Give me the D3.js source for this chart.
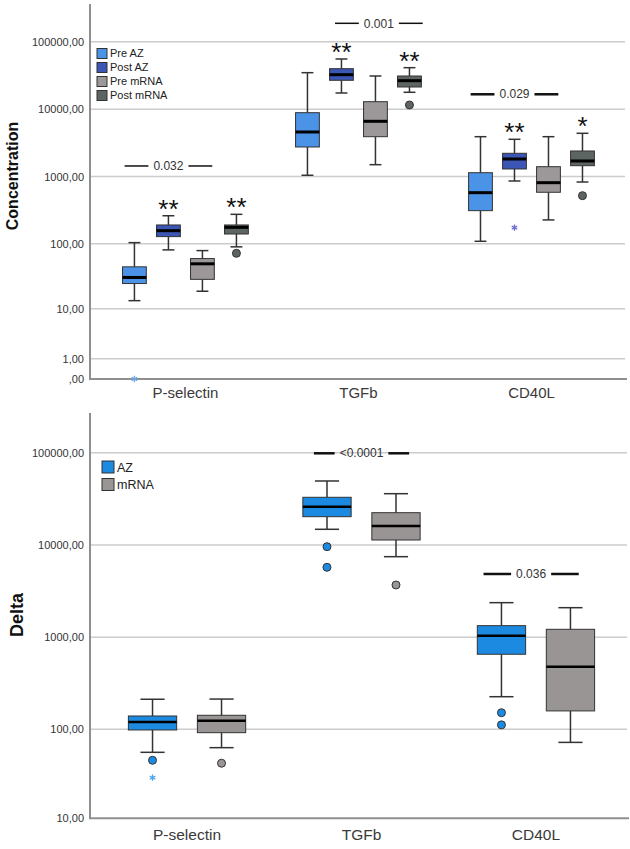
<!DOCTYPE html>
<html><head><meta charset="utf-8">
<script src="https://cdn.jsdelivr.net/npm/d3@7"></script>
<style>body{margin:0;background:#fff} svg{display:block} text{font-family:"Liberation Sans",Arial,sans-serif}</style>
</head><body><svg id="c" width="630" height="849"></svg>
<script>
// ---------- DATA ----------
const categories = ["P-selectin", "TGFb", "CD40L"];

// Top panel: Concentration
const topGroups = ["Pre AZ", "Post AZ", "Pre mRNA", "Post mRNA"];
const topColors = ["#4b93e6", "#3b56b5", "#9c9899", "#5d6562"];
// [lower whisker, Q1, median, Q3, upper whisker]
const topPselectin = [[13.5, 25, 31, 45, 104], [81, 128, 157, 191, 262], [19, 29, 50, 60, 79], [90, 140, 176, 191, 275]];
const topTGFb = [[1046, 2748, 4585, 8862, 34720], [17360, 26780, 32420, 39800, 55400], [1502, 3906, 6607, 12900, 31010], [17780, 21310, 26420, 31010, 41180]];
const topCD40L = [[109, 312, 577, 1142, 3906], [860, 1297, 1824, 2216, 3574], [227, 585, 812, 1402, 3906], [831, 1451, 1704, 2397, 4385]];
const topOutliers = [
  ["P-selectin", "Pre AZ", 0, "star"],
  ["P-selectin", "Post mRNA", 72, "circle"],
  ["TGFb", "Post mRNA", 11530, "circle"],
  ["CD40L", "Post AZ", 174, "star"],
  ["CD40L", "Post mRNA", 521, "circle"]
];
const topSignif = [["P-selectin", "Post AZ", "**"], ["P-selectin", "Post mRNA", "**"], ["TGFb", "Post AZ", "**"], ["TGFb", "Post mRNA", "**"], ["CD40L", "Post AZ", "**"], ["CD40L", "Post mRNA", "*"]];
// [category, label, value level, centre (group index units)]
const topPvalues = [["P-selectin", "0.032", 1437, 1.0], ["TGFb", "0.001", 187300, 2.1], ["CD40L", "0.029", 16610, 1.0]];
const topTicks = [0, 1, 10, 100, 1000, 10000, 100000];
const topTickLabels = [",00", "1,00", "10,00", "100,00", "1000,00", "10000,00", "100000,00"];

// Bottom panel: Delta
const bottomGroups = ["AZ", "mRNA"];
const bottomColors = ["#1d8ae2", "#9a9595"];
const deltaPselectin = [[56, 98.5, 120, 140, 213], [63, 92, 124, 142.5, 214]];
const deltaTGFb = [[14810, 20280, 26020, 32890, 49390], [7482, 11340, 16090, 22410, 35980]];
const deltaCD40L = [[227, 656, 1043, 1339, 2377], [72, 159, 481, 1223, 2097]];
const deltaOutliers = [
  ["P-selectin", "AZ", 45.7, "circle"],
  ["P-selectin", "AZ", 29.3, "star"],
  ["P-selectin", "mRNA", 42.4, "circle"],
  ["TGFb", "AZ", 9600, "circle"],
  ["TGFb", "AZ", 5743, "circle"],
  ["TGFb", "mRNA", 3694, "circle"],
  ["CD40L", "AZ", 152, "circle"],
  ["CD40L", "AZ", 112, "circle"]
];
const bottomPvalues = [["TGFb", "<0.0001", 98500, 0.5], ["CD40L", "0.036", 4860, 0.43]];
const bottomTicks = [10, 100, 1000, 10000, 100000];
const bottomTickLabels = ["10,00", "100,00", "1000,00", "10000,00", "100000,00"];

// ---------- DRAW ----------
const svg = d3.select("#c");

function panel(o) {
  const g = svg.append("g");
  const y = d3.scaleSymlog().constant(1).domain(o.yDomain).range(o.yRange);
  const x = d3.scaleBand().domain(categories).range(o.xRange).paddingInner(0).paddingOuter(o.po).align(o.align);
  const inner = d3.scaleBand().domain(o.groups).range([-o.hw, o.hw]).paddingInner(0.3).paddingOuter(0.15);
  const cx = (cat, grp) => x(cat) + x.bandwidth() / 2 + inner(grp) + inner.bandwidth() / 2;
  const cxIdx = (cat, idx) => x(cat) + x.bandwidth() / 2 + inner(o.groups[0]) + inner.bandwidth() / 2 + idx * inner.step();
  const bw = inner.bandwidth();
  const [xl, xr] = o.xRange;

  // gridlines
  g.append("g").selectAll("line").data(o.ticks.filter(t => t !== o.yDomain[0])).join("line")
    .attr("x1", xl).attr("x2", xr).attr("y1", d => y(d)).attr("y2", d => y(d))
    .attr("stroke", "#cccccc").attr("stroke-width", 1.5);

  // y tick labels via axis
  const ax = g.append("g").attr("transform", `translate(${xl},0)`)
    .call(d3.axisLeft(y).tickValues(o.ticks).tickFormat((d, i) => o.tickLabels[i]).tickSize(0).tickPadding(6));
  ax.select(".domain").remove();
  ax.selectAll("text").attr("font-size", 11).attr("fill", "#333").attr("font-family", "Liberation Sans, Arial, sans-serif");

  // axis lines
  g.append("line").attr("x1", xl).attr("x2", xl).attr("y1", o.yRange[1]).attr("y2", o.yRange[0] + 1)
    .attr("stroke", "#8f8f8f").attr("stroke-width", 2);
  g.append("line").attr("x1", xl).attr("x2", xr + 2).attr("y1", o.yRange[0]).attr("y2", o.yRange[0])
    .attr("stroke", "#8f8f8f").attr("stroke-width", 2);

  // x labels
  g.append("g").selectAll("text").data(categories).join("text")
    .attr("x", d => x(d) + x.bandwidth() / 2).attr("y", o.xLabelY)
    .attr("text-anchor", "middle").attr("font-size", o.xLabelSize).attr("fill", "#3a3a3a").text(d => d);

  // y title
  g.append("text").attr("transform", `translate(${o.titleX},${o.titleY}) rotate(-90)`)
    .attr("text-anchor", "middle").attr("font-size", o.titleSize).attr("font-weight", "bold").attr("fill", "#111").text(o.title);

  // boxes
  categories.forEach((cat, ci) => {
    o.data[ci].forEach((s, gi) => {
      const grp = o.groups[gi];
      const c = cx(cat, grp);
      const bg = g.append("g");
      bg.append("line").attr("x1", c).attr("x2", c).attr("y1", y(s[0])).attr("y2", y(s[1])).attr("stroke", "#333").attr("stroke-width", 1.5);
      bg.append("line").attr("x1", c).attr("x2", c).attr("y1", y(s[3])).attr("y2", y(s[4])).attr("stroke", "#333").attr("stroke-width", 1.5);
      [s[0], s[4]].forEach(v => bg.append("line").attr("x1", c - bw / 4).attr("x2", c + bw / 4).attr("y1", y(v)).attr("y2", y(v)).attr("stroke", "#333").attr("stroke-width", 1.5));
      bg.append("rect").attr("x", c - bw / 2).attr("width", bw).attr("y", y(s[3])).attr("height", y(s[1]) - y(s[3]))
        .attr("fill", o.colors[gi]).attr("stroke", "#333").attr("stroke-width", 1);
      bg.append("line").attr("x1", c - bw / 2).attr("x2", c + bw / 2).attr("y1", y(s[2])).attr("y2", y(s[2])).attr("stroke", "#000").attr("stroke-width", o.medW);
    });
  });

  // outliers
  o.outliers.forEach(([cat, grp, v, type]) => {
    const gi = o.groups.indexOf(grp);
    const c = cx(cat, grp);
    if (type === "circle") {
      g.append("circle").attr("cx", c).attr("cy", y(v)).attr("r", 4).attr("fill", o.colors[gi]).attr("stroke", "#333").attr("stroke-width", 1);
    } else {
      g.append("path").attr("transform", `translate(${c},${y(v)})`).attr("d", d3.symbol(d3.symbolAsterisk, 28)())
        .attr("stroke", o.starColors[gi]).attr("stroke-width", 1.3).attr("fill", "none");
    }
  });

  // significance stars
  (o.signif || []).forEach(([cat, grp, lab]) => {
    const gi = o.groups.indexOf(grp);
    const s = o.data[categories.indexOf(cat)][gi];
    g.append("text").attr("x", cx(cat, grp)).attr("y", y(s[4]) + 2).attr("text-anchor", "middle")
      .attr("font-size", 26).attr("fill", "#111").text(lab);
  });

  // p-value annotations
  o.pvals.forEach(([cat, lab, v, idx]) => {
    const c = cxIdx(cat, idx);
    const half = o.pHalf * inner.step();
    const yy = y(v);
    const t = g.append("text").attr("x", c).attr("y", yy).attr("dy", "0.35em").attr("text-anchor", "middle")
      .attr("font-size", 12).attr("fill", "#333").text(lab);
    const w = t.node().getComputedTextLength();
    g.append("line").attr("x1", c - half).attr("x2", c - w / 2 - 5).attr("y1", yy).attr("y2", yy).attr("stroke", "#111").attr("stroke-width", o.pW(cat));
    g.append("line").attr("x1", c + w / 2 + 5).attr("x2", c + half).attr("y1", yy).attr("y2", yy).attr("stroke", "#111").attr("stroke-width", o.pW(cat));
  });

  // legend
  const lg = g.append("g");
  o.groups.forEach((grp, i) => {
    const ly = o.legY + i * o.legStep;
    lg.append("rect").attr("x", o.legX).attr("y", ly - o.legSq / 2).attr("width", o.legSq).attr("height", o.legSq)
      .attr("fill", o.colors[i]).attr("stroke", "#333").attr("stroke-width", 1);
    lg.append("text").attr("x", o.legX + o.legSq + 3).attr("y", ly).attr("dy", "0.36em")
      .attr("font-size", o.legFont).attr("fill", "#222").text(grp);
  });
}

panel({
  yDomain: [0, 362000], yRange: [379, 4],
  xRange: [90, 625], po: 0.046, align: 0.56, hw: 68,
  groups: topGroups, colors: topColors, starColors: ["#6aa8ea", "#6b6bd0", "#999", "#666"],
  data: [topPselectin, topTGFb, topCD40L],
  outliers: topOutliers, signif: topSignif,
  pvals: topPvalues, pHalf: 1.29, pW: cat => cat === "CD40L" ? 2.5 : 1.5,
  ticks: topTicks, tickLabels: topTickLabels,
  xLabelY: 398, xLabelSize: 15, title: "Concentration", titleX: 18, titleY: 176, titleSize: 16, medW: 3,
  legX: 97, legY: 53.5, legStep: 14, legSq: 10, legFont: 11
});

panel({
  yDomain: [10, 269000], yRange: [818.3, 413],
  xRange: [90, 627], po: 0.039, align: 0.72, hw: 69,
  groups: bottomGroups, colors: bottomColors, starColors: ["#4aa6ea", "#999"],
  data: [deltaPselectin, deltaTGFb, deltaCD40L],
  outliers: deltaOutliers, signif: [],
  pvals: bottomPvalues, pHalf: 0.69, pW: () => 2.5,
  ticks: bottomTicks, tickLabels: bottomTickLabels,
  xLabelY: 840, xLabelSize: 15.5, title: "Delta", titleX: 23, titleY: 615, titleSize: 18, medW: 2.5,
  legX: 102, legY: 467, legStep: 17.5, legSq: 12, legFont: 12.5
});
</script></body></html>
